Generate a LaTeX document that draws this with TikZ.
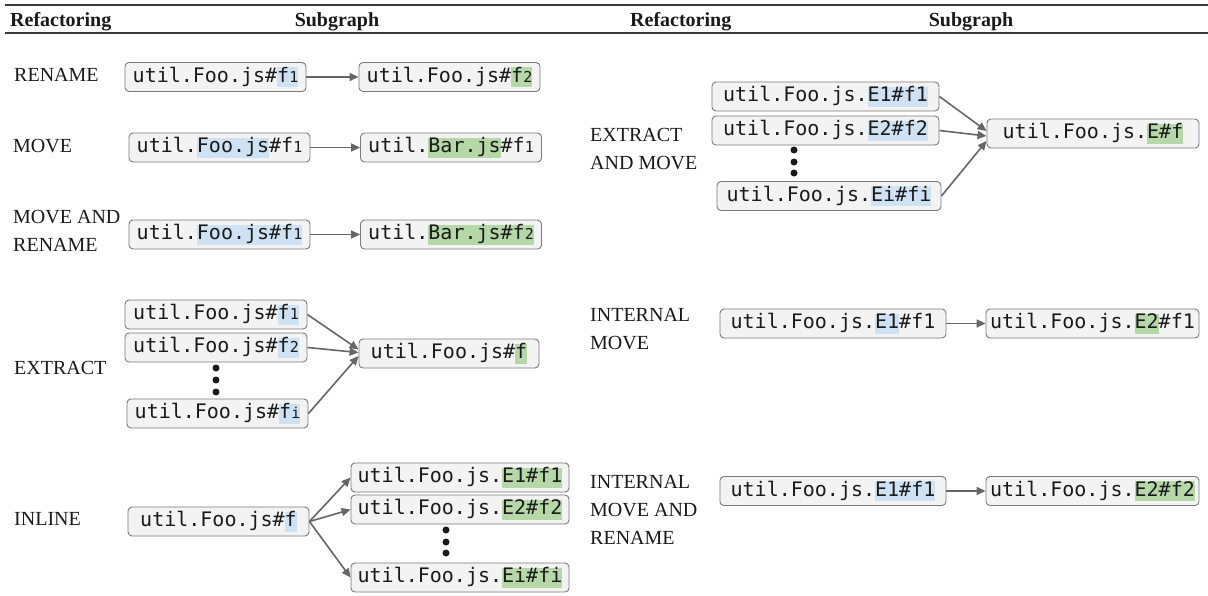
\documentclass[tikz,border=0pt]{standalone}
\usepackage{fontspec}
\setmainfont{Liberation Serif}
\newfontfamily\codefont{DejaVu Sans Mono}
\usetikzlibrary{arrows.meta}
\definecolor{boxfill}{HTML}{F3F3F3}
\definecolor{boxline}{HTML}{7A7A7A}
\definecolor{arrowgray}{HTML}{666666}
\definecolor{hlblue}{HTML}{CFE2F3}
\definecolor{hlgreen}{HTML}{B6D7A8}
\definecolor{ink}{HTML}{1A1A1A}
\definecolor{rulegray}{HTML}{3A3A3A}
% strut that fixes the height of code text and of its highlights
\newcommand\cstrut{\rule[-4.7pt]{0pt}{20pt}}
\newcommand\hb[1]{{\setlength{\fboxsep}{0pt}\colorbox{hlblue}{\cstrut#1}}}
\newcommand\hg[1]{{\setlength{\fboxsep}{0pt}\colorbox{hlgreen}{\cstrut#1}}}
\newcommand\sub[1]{{\fontsize{15}{15}\selectfont#1}}
\tikzset{
  code/.style={draw=boxline, fill=boxfill, rounded corners=4pt, line width=0.9pt,
    minimum height=29pt, inner sep=0pt, text=ink,
    font={\codefont\fontsize{20}{24}\selectfont}, execute at begin node=\cstrut},
  label/.style={anchor=west, align=left, inner sep=0pt, text=ink,
    font={\fontsize{20}{28}\selectfont}},
  head/.style={inner sep=0pt, text=ink, font={\bfseries\fontsize{20}{24}\selectfont}},
  link/.style={draw=arrowgray, line width=1.6pt, -{Triangle[length=9pt,width=8pt]}},
  dot/.style={circle, fill=ink, inner sep=0pt, minimum size=7pt},
  rule/.style={draw=rulegray, line width=1.3pt},
}
\begin{document}
\begin{tikzpicture}[x=1pt, y=-1pt]
\useasboundingbox[fill=white] (0,0) rectangle (1208,595);

% table rules and headers
\coordinate (r1a) at (5,5);   \coordinate (r1b) at (1208,5);
\coordinate (r2a) at (5,33);  \coordinate (r2b) at (1208,33);
\draw[rule] (r1a) -- (r1b);
\draw[rule] (r2a) -- (r2b);
\node[head, anchor=base west] (h1) at (10,26) {Refactoring};
\node[head, anchor=base] (h2) at (337,26) {Subgraph};
\node[head, anchor=base west] (h3) at (630,26) {Refactoring};
\node[head, anchor=base] (h4) at (971,26) {Subgraph};

% RENAME
\node[label] (lrename) at (14,75) {RENAME};
\node[code, minimum width=181pt] (a1) at (215.5,77) {util.Foo.js\#\hb{f\sub{1}}};
\node[code, minimum width=181pt] (a2) at (449.5,77) {util.Foo.js\#\hg{f\sub{2}}};
\draw[link] (a1) -- (a2);

% MOVE
\node[label] (lmove) at (13,146) {MOVE};
\node[code, minimum width=181pt] (b1) at (219.5,147.5) {util.\hb{Foo.js}\#f\sub{1}};
\node[code, minimum width=181pt] (b2) at (451,147.5) {util.\hg{Bar.js}\#f\sub{1}};
\draw[link] (b1) -- (b2);

% MOVE AND RENAME
\node[label] (lmr) at (13,230.5) {MOVE AND\\RENAME};
\node[code, minimum width=181pt] (c1) at (219.5,234.5) {util.\hb{Foo.js\#f\sub{1}}};
\node[code, minimum width=181pt] (c2) at (451,234.5) {util.\hg{Bar.js\#f\sub{2}}};
\draw[link] (c1) -- (c2);

% EXTRACT
\node[label] (lextract) at (14,368) {EXTRACT};
\node[code, minimum width=182pt] (x1) at (216,314.5) {util.Foo.js\#\hb{f\sub{1}}};
\node[code, minimum width=182pt] (x2) at (216,347.5) {util.Foo.js\#\hb{f\sub{2}}};
\node[dot] (xd1) at (216,368) {};
\node[dot] (xd2) at (216,380) {};
\node[dot] (xd3) at (216,392) {};
\node[code, minimum width=181pt] (xi) at (217.5,413.5) {util.Foo.js\#\hb{f\sub{i}}};
\node[code, minimum width=180pt] (xt) at (449,353.5) {util.Foo.js\#\hg{f}};
\draw[link] (x1.east) -- ([yshift=4pt]xt.west);
\draw[link] (x2.east) -- ([yshift=1pt]xt.west);
\draw[link] (xi.east) -- ([yshift=-2.5pt]xt.west);

% INLINE
\node[label] (linline) at (14,519) {INLINE};
\node[code, minimum width=181pt] (i0) at (218.5,521.5) {util.Foo.js\#\hb{f}};
\node[code, minimum width=218pt] (i1) at (460,477.5) {util.Foo.js.\hg{E1\#f1}};
\node[code, minimum width=218pt] (i2) at (460,509.5) {util.Foo.js.\hg{E2\#f2}};
\node[dot] (id1) at (446,530) {};
\node[dot] (id2) at (446,542) {};
\node[dot] (id3) at (446,553) {};
\node[code, minimum width=218pt] (ii) at (460,577.5) {util.Foo.js.\hg{Ei\#fi}};
\draw[link] (i0.east) -- (i1.west);
\draw[link] (i0.east) -- (i2.west);
\draw[link] (i0.east) -- (ii.west);

% EXTRACT AND MOVE
\node[label] (leam) at (590,149) {EXTRACT\\AND MOVE};
\node[code, minimum width=227pt] (m1) at (825.5,96.5) {util.Foo.js.\hb{E1\#f1}};
\node[code, minimum width=227pt] (m2) at (825.5,130.5) {util.Foo.js.\hb{E2\#f2}};
\node[dot] (md1) at (794,150) {};
\node[dot] (md2) at (794,162) {};
\node[dot] (md3) at (794,173) {};
\node[code, minimum width=224pt] (mi) at (829,196) {util.Foo.js.\hb{Ei\#fi}};
\node[code, minimum width=212pt] (mt) at (1093,133.5) {util.Foo.js.\hg{E\#f}};
\draw[link] (m1.east) -- ([yshift=2.5pt]mt.west);
\draw[link] (m2.east) -- ([yshift=-2.5pt]mt.west);
\draw[link] (mi.east) -- ([yshift=-7.5pt]mt.west);

% INTERNAL MOVE
\node[label] (lim) at (590,329) {INTERNAL\\MOVE};
\node[code, minimum width=226pt] (p1) at (833,323.5) {util.Foo.js.\hb{E1}\#f1};
\node[code, minimum width=213pt] (p2) at (1092.5,323.5) {util.Foo.js.\hg{E2}\#f1};
\draw[link] (p1) -- (p2);

% INTERNAL MOVE AND RENAME
\node[label] (limr) at (590,510) {INTERNAL\\MOVE AND\\RENAME};
\node[code, minimum width=226pt] (q1) at (833,491) {util.Foo.js.\hb{E1\#f1}};
\node[code, minimum width=213pt] (q2) at (1092.5,491) {util.Foo.js.\hg{E2\#f2}};
\draw[link] (q1) -- (q2);
\end{tikzpicture}
\end{document}
